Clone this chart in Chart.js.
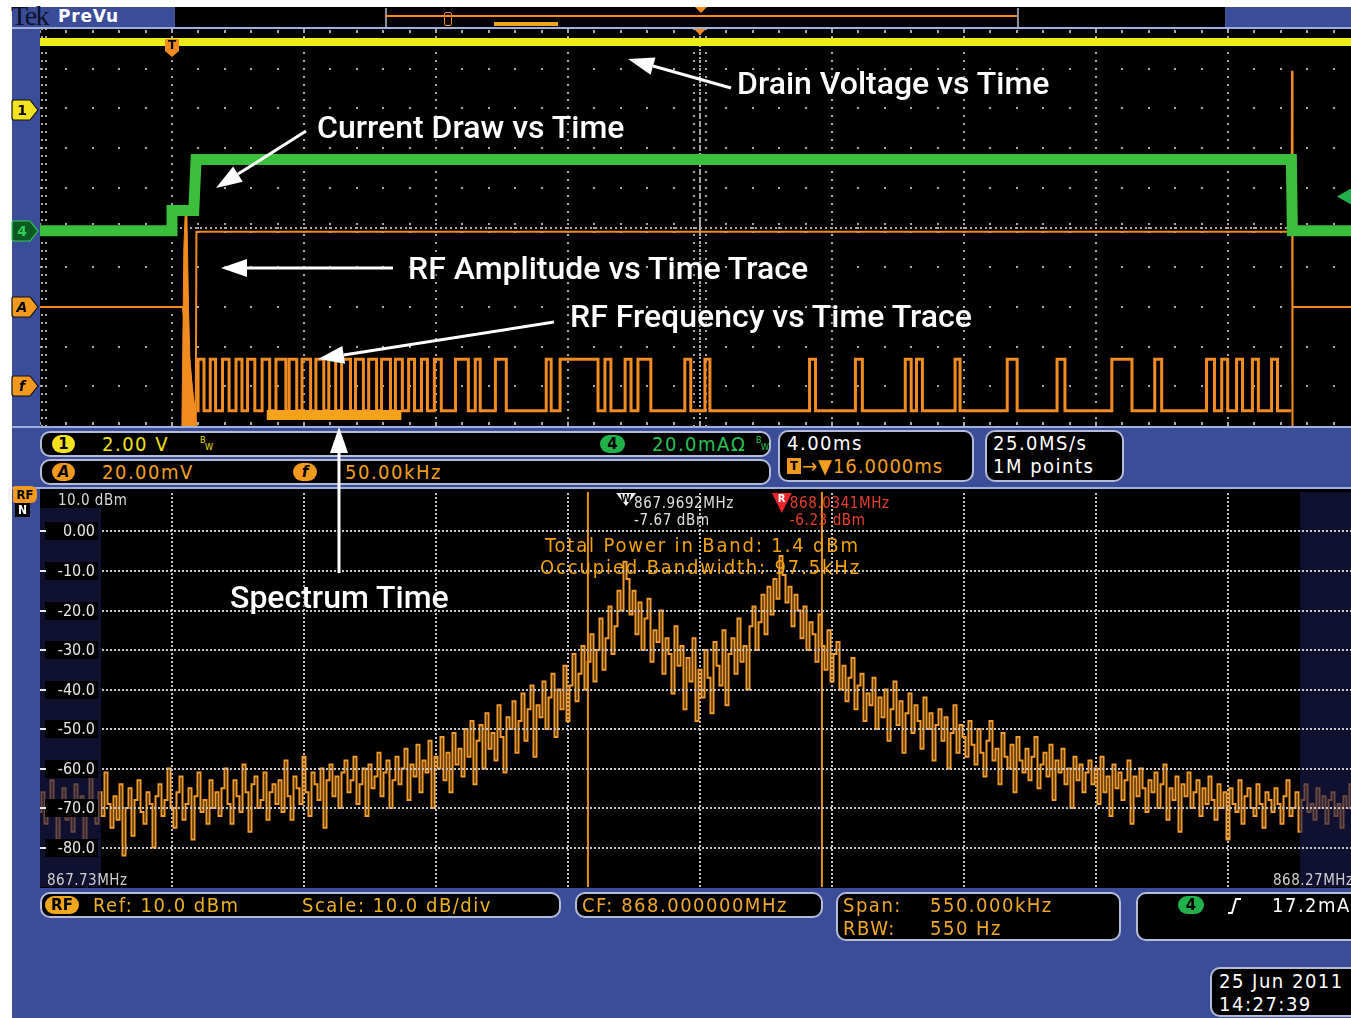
<!DOCTYPE html>
<html>
<head>
<meta charset="utf-8">
<title>RF burst capture</title>
<script src="https://cdn.jsdelivr.net/npm/chart.js@4.4.1/dist/chart.umd.min.js"></script>
<style>
  html, body { margin:0; padding:0; }
  body { width:1351px; height:1018px; overflow:hidden; background:#fff; position:relative;
         font-family:"DejaVu Sans Condensed","Liberation Sans Narrow","DejaVu Sans",sans-serif; }
  .abs { position:absolute; }
  .blk { position:absolute; background:#000; }
  .hl  { position:absolute; background:#9fb0dc; }
  .box { position:absolute; background:#000; border:2px solid #b4bcd8; border-radius:10px; box-sizing:border-box; }
  .rd  { position:absolute; font-size:20px; line-height:20px; letter-spacing:1.5px; white-space:nowrap; }
  .pill{ position:absolute; height:18px; border-radius:9px; color:#000; font-weight:bold; font-size:15px;
         line-height:18px; text-align:center; font-family:"DejaVu Sans","Liberation Sans",sans-serif; }
  .bw  { position:absolute; font-size:9px; line-height:9px; }
  .note{ position:absolute; color:#fff; font-family:Roboto,"Liberation Sans",sans-serif; font-weight:500;
         font-size:32px; line-height:32px; white-space:nowrap; text-shadow:0 0 2px #000, 1px 1px 2px #000; }
  .sp  { position:absolute; font-size:20px; line-height:20px; letter-spacing:1.85px; color:#f2a20a; white-space:nowrap; }
  svg  { position:absolute; left:0; top:0; overflow:visible; }
</style>
</head>
<body>
<!-- instrument bezel -->
<div class="abs" style="left:12px;top:7px;width:1339px;height:1011px;background:#3b4c98"></div>

<!-- title strip with record view -->
<div class="blk" style="left:175px;top:7px;width:1050px;height:20px"></div>
<div class="abs" style="left:11px;top:3px;font-family:'Liberation Serif',serif;font-size:28px;line-height:26px;color:#0c1226;letter-spacing:-1.5px">Tek</div>
<div class="abs" style="left:58px;top:6px;font-family:'DejaVu Sans',sans-serif;font-weight:bold;font-size:17px;line-height:20px;color:#fff;letter-spacing:0.8px">PreVu</div>
<div id="recview"></div>

<!-- time-domain graticule -->
<div class="hl" style="left:12px;top:27px;width:1339px;height:2px"></div>
<div class="blk" style="left:40px;top:29px;width:1320px;height:397px"></div>
<canvas id="scope" class="abs" style="left:40px;top:29px;width:1320px;height:397px" width="1320" height="397"></canvas>
<div id="chanMarks"></div>
<div class="hl" style="left:12px;top:426px;width:1339px;height:2px"></div>

<!-- channel readouts -->
<div class="box" style="left:40px;top:431px;width:731px;height:26px"></div>
<div class="pill" style="left:52px;top:435px;width:23px;background:#f2e21c">1</div>
<div class="rd" style="left:102px;top:434px;color:#f2e21c">2.00 V</div>
<div class="bw" style="left:200px;top:436px;color:#f2e21c">B</div><div class="bw" style="left:205px;top:443px;color:#f2e21c">W</div>
<div class="pill" style="left:600px;top:435px;width:25px;background:#22b04a">4</div>
<div class="rd" style="left:652px;top:434px;color:#25c455">20.0mAΩ</div>
<div class="bw" style="left:756px;top:436px;color:#25c455">B</div><div class="bw" style="left:761px;top:443px;color:#25c455">W</div>

<div class="box" style="left:40px;top:459px;width:731px;height:26px"></div>
<div class="pill" style="left:52px;top:463px;width:23px;background:#f29a1e;font-style:italic">A</div>
<div class="rd" style="left:102px;top:462px;color:#f2a01e">20.00mV</div>
<div class="pill" style="left:293px;top:463px;width:24px;background:#f29a1e;font-style:italic">f</div>
<div class="rd" style="left:345px;top:462px;color:#f2a01e">50.00kHz</div>

<div class="box" style="left:778px;top:430px;width:196px;height:52px"></div>
<div class="rd" style="left:787px;top:433px;color:#fff">4.00ms</div>
<div class="abs" style="left:787px;top:458px;width:14px;height:16px;background:#f29a1e;color:#000;font-weight:bold;font-size:13px;line-height:16px;text-align:center">T</div>
<div class="rd" style="left:802px;top:456px;color:#f2a01e;letter-spacing:1px">→▼16.0000ms</div>

<div class="box" style="left:985px;top:430px;width:139px;height:52px"></div>
<div class="rd" style="left:993px;top:433px;color:#fff">25.0MS/s</div>
<div class="rd" style="left:993px;top:456px;color:#fff">1M points</div>

<!-- spectrum graticule -->
<div class="hl" style="left:12px;top:487px;width:1339px;height:2px"></div>
<div class="blk" style="left:40px;top:489px;width:1320px;height:399px"></div>
<canvas id="spec" class="abs" style="left:40px;top:492px;width:1320px;height:395px" width="1320" height="395"></canvas>
<div class="abs" style="left:13px;top:486px;width:24px;height:17px;background:#f29a1e;color:#000;font-weight:bold;font-size:13px;line-height:17px;text-align:center;border-radius:2px 6px 6px 2px">RF</div>
<div class="abs" style="left:15px;top:503px;width:15px;height:14px;background:#000;color:#fff;font-weight:bold;font-size:12px;line-height:14px;text-align:center">N</div>
<div class="rd" style="left:58px;top:492px;color:#d8d8d8;font-size:15px;line-height:16px;letter-spacing:0.5px">10.0 dBm</div>
<div class="rd" style="left:47px;top:872px;color:#d0d0d0;font-size:15px;line-height:16px;letter-spacing:0.5px">867.73MHz</div>
<div class="rd" style="left:1273px;top:872px;color:#d0d0d0;font-size:15px;line-height:16px;letter-spacing:0.5px">868.27MHz</div>
<div class="sp" id="powerText" style="left:545px;top:535px"></div>
<div class="sp" id="obwText" style="left:540px;top:557px"></div>

<!-- spectrum readouts -->
<div class="box" style="left:40px;top:892px;width:521px;height:26px"></div>
<div class="pill" style="left:45px;top:896px;width:34px;background:#f2a61e">RF</div>
<div class="rd" style="left:93px;top:895px;color:#ecb222">Ref: 10.0 dBm</div>
<div class="rd" style="left:302px;top:895px;color:#ecb222">Scale: 10.0 dB/div</div>

<div class="box" style="left:575px;top:892px;width:248px;height:26px"></div>
<div class="rd" style="left:582px;top:895px;color:#f0a828">CF: 868.000000MHz</div>

<div class="box" style="left:836px;top:892px;width:285px;height:49px"></div>
<div class="rd" style="left:843px;top:895px;color:#f0a828">Span:</div>
<div class="rd" style="left:930px;top:895px;color:#f0a828">550.000kHz</div>
<div class="rd" style="left:843px;top:918px;color:#f0a828">RBW:</div>
<div class="rd" style="left:930px;top:918px;color:#f0a828">550 Hz</div>

<div class="box" style="left:1136px;top:892px;width:230px;height:49px"></div>
<div class="pill" style="left:1178px;top:896px;width:26px;background:#22b04a">4</div>
<svg width="20" height="20" style="left:1226px;top:896px"><path d="M2,17 H6 L10,3 H15" stroke="#fff" stroke-width="2" fill="none"/></svg>
<div class="rd" style="left:1272px;top:895px;color:#fff">17.2mA</div>

<div class="box" style="left:1210px;top:967px;width:160px;height:50px"></div>
<div class="rd" style="left:1219px;top:971px;color:#fff">25 Jun 2011</div>
<div class="rd" style="left:1219px;top:994px;color:#fff">14:27:39</div>

<!-- callouts -->
<svg id="arrows" width="1351" height="1018"></svg>
<div class="note" style="left:737px;top:67px">Drain Voltage vs Time</div>
<div class="note" style="left:317px;top:111px">Current Draw vs Time</div>
<div class="note" style="left:408px;top:252px">RF Amplitude vs Time Trace</div>
<div class="note" style="left:570px;top:300px">RF Frequency vs Time Trace</div>
<div class="note" style="left:230px;top:581px">Spectrum Time</div>

<script>
// ---------------- time domain (ms relative to trigger) ----------------
const timeWindow = [-4, 36];          // 4.00 ms/div over 10 divisions
const centerTime = 16;                // horizontal position 16.0000 ms
const specTime = [2.87, 6.95];        // window used for the spectrum

// channel 1: drain voltage (V)
const drainTime  = [-4, 36];
const drainVolts = [3.4, 3.4];

// channel 4: current draw (mA)
const currentTime = [-4, 0, 0, 0.66, 0.73, 33.92, 33.95, 36];
const currentMa   = [0, 0, 10.2, 10.2, 35.9, 35.9, 0, 0];
const trigLevelMa = 17.2;

// RF amplitude (mV)
const ampTime = [-4, 0.33, 0.72, 0.74, 33.93, 33.94, 33.95, 33.96, 36];
const ampMv   = [0, 0, -58, 37.8, 37.8, 119, -60, 0, 0];
// power-up burst at the start of the transmission (mV envelope)
const burstTime = [0.30, 0.36, 0.41, 0.45, 0.50, 0.54, 0.63, 0.76];
const burstMv   = [-60, 30, 51, 48, 0, -25, -45, -60];

// RF frequency (kHz from carrier): FSK mark intervals
const fskLowKhz = -30.8, fskHighKhz = 34.1;
const fskStart = 0.74, fskEnd = 33.92;
const fskRise = [0.79, 1.16, 1.53, 1.94, 2.29, 2.73, 3.15, 3.55, 3.94, 4.36, 4.75, 5.14, 5.56, 5.96, 6.35,
                 6.77, 7.17, 7.56, 7.95, 8.59, 9.19, 9.80, 11.34, 11.76, 13.12, 13.73, 14.12, 15.54, 16.15,
                 19.32, 20.71, 22.22, 22.56, 23.73, 25.31, 26.82, 28.48, 29.78, 31.35, 31.81, 32.26, 32.74, 33.32];
const fskFall = [0.97, 1.32, 1.73, 2.12, 2.51, 2.96, 3.45, 3.78, 4.20, 4.60, 4.96, 5.41, 5.80, 6.20, 6.62,
                 6.98, 7.35, 7.74, 8.16, 8.98, 9.34, 10.13, 11.49, 12.91, 13.30, 13.91, 14.51, 15.72, 16.30,
                 19.50, 20.92, 22.40, 22.74, 23.88, 25.61, 27.06, 29.09, 29.99, 31.59, 31.99, 32.44, 32.92, 33.50];

// vertical settings: units per division and marker offset in divisions
const chan = {
  ch1: { perDiv: 2,  offsetDiv: 2.97,  color: '#f2e21c', label: '1' },
  ch4: { perDiv: 20, offsetDiv: -0.08, color: '#22b04a', label: '4' },
  chA: { perDiv: 20, offsetDiv: -2.0,  color: '#f29a1e', label: 'A' },
  chF: { perDiv: 50, offsetDiv: -4.0,  color: '#f29a1e', label: 'f' }
};

// ---------------- spectrum (1.25 kHz bins from 867.725 MHz) ----------------
const specStartMHz = 867.725, specStepMHz = 0.00125;
const specDbm = [
  -71,-66,-74,-69,-63,-72,-78,-68,-65,-73,-70,-76,-64,-71,-67,-79,-70,-62,-68,-74,
  -66,-72,-61,-69,-75,-67,-73,-64,-82,-70,-65,-77,-68,-63,-71,-74,-66,-69,-80,-67,
  -64,-72,-68,-60,-70,-75,-66,-62,-73,-69,-65,-78,-67,-61,-71,-68,-74,-63,-70,-66,
  -72,-65,-60,-69,-74,-63,-67,-71,-59,-66,-76,-64,-62,-70,-68,-61,-73,-66,-64,-69,
  -63,-71,-58,-67,-73,-62,-65,-69,-57,-66,-72,-61,-64,-68,-60,-75,-63,-59,-67,-62,
  -70,-61,-58,-66,-63,-57,-69,-64,-60,-72,-59,-65,-62,-56,-67,-61,-58,-70,-63,-57,
  -64,-60,-55,-68,-59,-62,-54,-66,-58,-61,-53,-70,-57,-60,-52,-63,-56,-66,-51,-59,
  -55,-62,-50,-57,-48,-64,-53,-49,-60,-46,-55,-51,-58,-44,-52,-61,-47,-50,-43,-56,
  -48,-41,-53,-45,-39,-57,-44,-47,-38,-50,-42,-36,-52,-40,-45,-34,-48,-39,-31,-43,
  -36,-29,-40,-33,-26,-38,-30,-22,-35,-27,-19,-31,-24,-15,-20,-7.67,
  -12,-21,-15,-26,-18,-30,-22,-17,-33,-25,-28,-20,-36,-27,-31,-41,-24,-34,-29,-45,-32,-38,-27,-48,-35,
  -42,-30,-37,-46,-28,-34,-39,-25,-44,-31,-27,-36,-22,-33,-29,-40,-24,-19,-30,-23,-16,-26,-14,-21,-12,-17,
  -6.23,
  -11,-18,-14,-24,-16,-20,-27,-19,-30,-23,-26,-33,-21,-29,-35,-25,-38,-31,-28,-40,-34,-43,-37,
  -32,-45,-39,-36,-48,-41,-44,-37,-50,-42,-47,-40,-53,-45,-38,-49,-43,-56,-46,-41,
  -51,-44,-48,-55,-42,-50,-46,-58,-49,-45,-53,-47,-60,-51,-44,-56,-49,-52,-57,-48,
  -54,-59,-50,-56,-62,-53,-48,-58,-55,-64,-51,-57,-60,-54,-66,-52,-58,-61,-55,-63,
  -57,-52,-65,-59,-56,-62,-54,-68,-58,-61,-55,-64,-60,-70,-57,-63,-59,-66,-61,-58,
  -64,-60,-69,-57,-66,-62,-72,-59,-65,-61,-68,-63,-58,-74,-62,-67,-60,-65,-71,-63,
  -66,-61,-70,-64,-59,-73,-65,-68,-62,-76,-64,-67,-61,-70,-66,-63,-72,-65,-69,-62,
  -68,-73,-64,-70,-66,-78,-65,-69,-71,-63,-74,-67,-65,-70,-72,-64,-69,-75,-66,-68,
  -71,-65,-69,-74,-67,-63,-72,-70,-66,-76,-68,-64,-71,-69,-73,-65,-70,-67,-74,-68,
  -66,-72,-69,-75,-67,-70,-64,-73,-68,-71
];
const specSpan = [867.725, 868.275];
const refLevelDbm = 10, dbPerDiv = 10;
const dbTicks = [0, -10, -20, -30, -40, -50, -60, -70, -80];
const obwEdges = [867.9533, 868.0508];
const markerFreq = [867.9692, 868.0341];
const markerDbm  = [-7.67, -6.23];
const totalPowerDbm = 1.4;

// ---------------- helpers ----------------
const xy = (xs, ys) => xs.map((x, i) => ({ x, y: ys[i] }));
const chanScale = c => ({ type: 'linear', display: false,
  min: (-5 - c.offsetDiv) * c.perDiv, max: (5 - c.offsetDiv) * c.perDiv });

const fskPts = [{ x: fskStart, y: fskLowKhz }];
fskRise.forEach((a, i) => {
  const b = fskFall[i];
  fskPts.push({ x: a, y: fskLowKhz }, { x: a, y: fskHighKhz }, { x: b, y: fskHighKhz }, { x: b, y: fskLowKhz });
});
fskPts.push({ x: fskEnd, y: fskLowKhz });

const ORANGE = '#f28b20';

// graticule dots, centre ticks and edge ticks of the time display
const scopeGrid = {
  id: 'scopeGrid',
  beforeDatasetsDraw(chart) {
    const { ctx, chartArea: a } = chart;
    const dx = (a.right - a.left) / 10, dy = (a.bottom - a.top) / 10;
    ctx.save();
    ctx.fillStyle = '#a8a8a8';
    for (let k = 1; k < 10; k++) {
      const x = Math.round(a.left + k * dx);
      for (let m = 0; m <= 50; m++) ctx.fillRect(x - 1, Math.round(a.top + m * dy / 5) - 1, 2, 2);
    }
    for (let j = 1; j < 10; j++) {
      const y = Math.round(a.top + j * dy);
      for (let m = 0; m <= 50; m++) ctx.fillRect(Math.round(a.left + m * dx / 5) - 1, y - 1, 2, 2);
    }
    // centre cross
    const cx = Math.round(a.left + 5 * dx), cy = Math.round(a.top + 5 * dy);
    for (let y = a.top; y < a.bottom; y += 4) ctx.fillRect(cx - 1, y, 2, 2);
    for (let m = 0; m <= 50; m++) {
      const y = Math.round(a.top + m * dy / 5);
      ctx.fillRect(cx - 7, y - 1, 2, 2); ctx.fillRect(cx + 5, y - 1, 2, 2);
    }
    for (let x = a.left; x < a.right; x += 5) ctx.fillRect(x, cy - 1, 2, 2);
    for (let m = 0; m <= 50; m++) {
      const x = Math.round(a.left + m * dx / 5);
      ctx.fillRect(x - 1, cy - 5, 2, 2); ctx.fillRect(x - 1, cy + 3, 2, 2);
    }
    // frame ticks
    for (let m = 0; m <= 50; m++) {
      const y = Math.round(a.top + m * dy / 5);
      ctx.fillRect(a.left + 1, y - 1, 2, 2); ctx.fillRect(a.left + 5, y - 1, 2, 2);
    }
    for (let m = 0; m <= 50; m++) {
      const x = Math.round(a.left + m * dx / 5);
      ctx.fillRect(x - 1, a.top + 1, 2, 3); ctx.fillRect(x - 1, a.bottom - 4, 2, 3);
    }
    ctx.restore();
  },
  afterDatasetsDraw(chart) {
    const { ctx, chartArea: a, scales } = chart;
    ctx.save();
    // spectrum time window bar
    const x0 = scales.x.getPixelForValue(specTime[0]), x1 = scales.x.getPixelForValue(specTime[1]);
    ctx.fillStyle = '#f7a21b';
    ctx.fillRect(x0, a.bottom - 16, x1 - x0, 10);
    // trigger position marker
    const tx = scales.x.getPixelForValue(0);
    ctx.fillStyle = ORANGE;
    ctx.beginPath();
    ctx.moveTo(tx - 7, a.top + 10); ctx.lineTo(tx + 7, a.top + 10); ctx.lineTo(tx + 7, a.top + 22);
    ctx.lineTo(tx, a.top + 28); ctx.lineTo(tx - 7, a.top + 22); ctx.closePath(); ctx.fill();
    ctx.fillStyle = '#000';
    ctx.font = 'bold 12px "DejaVu Sans"'; ctx.textAlign = 'center'; ctx.textBaseline = 'middle';
    ctx.fillText('T', tx, a.top + 17);
    // expansion point marker
    const ex = scales.x.getPixelForValue(centerTime);
    ctx.fillStyle = ORANGE;
    ctx.beginPath(); ctx.moveTo(ex - 6, a.top); ctx.lineTo(ex + 6, a.top); ctx.lineTo(ex, a.top + 6); ctx.closePath(); ctx.fill();
    // trigger level marker on the right edge
    const ty = scales.ch4.getPixelForValue(trigLevelMa);
    ctx.fillStyle = '#22b04a';
    ctx.beginPath(); ctx.moveTo(1297, ty); ctx.lineTo(1311, ty - 8); ctx.lineTo(1311, ty + 8); ctx.closePath(); ctx.fill();
    ctx.restore();
  }
};

const scope = new Chart(document.getElementById('scope'), {
  type: 'line',
  data: { datasets: [
    { data: xy(drainTime, drainVolts), yAxisID: 'ch1', borderColor: '#ecec1c', borderWidth: 8, order: 1 },
    { data: xy(currentTime, currentMa), yAxisID: 'ch4', borderColor: '#3cbf3c', borderWidth: 11, order: 2 },
    { data: xy(burstTime, burstMv), yAxisID: 'chA', borderColor: ORANGE, backgroundColor: ORANGE, borderWidth: 1, fill: 'start', order: 3 },
    { data: xy(ampTime, ampMv), yAxisID: 'chA', borderColor: ORANGE, borderWidth: 2, order: 4 },
    { data: fskPts, yAxisID: 'chF', borderColor: ORANGE, borderWidth: 3, order: 5 }
  ]},
  options: {
    responsive: false, animation: false, devicePixelRatio: 1, events: [],
    layout: { padding: 0 },
    elements: { point: { radius: 0 }, line: { tension: 0, borderCapStyle: 'butt' } },
    plugins: { legend: { display: false }, tooltip: { enabled: false } },
    scales: {
      x: { type: 'linear', display: false, min: timeWindow[0], max: timeWindow[1] },
      ch1: chanScale(chan.ch1), ch4: chanScale(chan.ch4), chA: chanScale(chan.chA), chF: chanScale(chan.chF)
    }
  },
  plugins: [scopeGrid]
});

// channel markers on the left bezel
(function () {
  const holder = document.getElementById('chanMarks');
  Object.keys(chan).forEach(k => {
    const c = chan[k];
    const y = 29 + scope.scales[k].getPixelForValue(0);
    const dark = k === 'ch4';
    holder.insertAdjacentHTML('beforeend',
      `<svg width="28" height="22" style="left:11px;top:${Math.round(y - 11)}px">
        <path d="M3,1 H19 L27,11 L19,21 H3 Q1,21 1,19 V3 Q1,1 3,1 Z" fill="${dark ? '#0c5a22' : c.color}" stroke="${dark ? '#2fcf55' : '#111'}" stroke-width="1.2"/>
        <text x="11" y="16" text-anchor="middle" font-family="DejaVu Sans" font-weight="bold" font-size="14" ${k === 'chA' || k === 'chF' ? 'font-style="italic"' : ''} fill="${dark ? '#2fcf55' : '#000'}">${c.label}</text>
      </svg>`);
  });
})();

// record view in the title strip
(function () {
  const L = 385, R = 1017, span = timeWindow[1] - timeWindow[0];
  const rx = t => L + (t - timeWindow[0]) / span * (R - L);
  const h = document.getElementById('recview');
  h.insertAdjacentHTML('beforeend',
    `<div class="abs" style="left:${L}px;top:8px;width:2px;height:19px;background:#8a8f9c"></div>
     <div class="abs" style="left:${R}px;top:8px;width:2px;height:19px;background:#8a8f9c"></div>
     <div class="abs" style="left:${L}px;top:15px;width:${R - L}px;height:2px;background:${ORANGE}"></div>
     <div class="abs" style="left:${rx(0) - 4}px;top:12px;width:6px;height:12px;border:1.5px solid ${ORANGE};border-radius:2px"></div>
     <div class="abs" style="left:${rx(specTime[0])}px;top:22px;width:${rx(specTime[1]) - rx(specTime[0])}px;height:4px;background:#f7a21b"></div>
     <svg width="14" height="8" style="left:${rx(centerTime) - 7}px;top:7px"><path d="M1,0 H13 L7,6 Z" fill="${ORANGE}"/></svg>`);
})();

// ---------------- spectrum display ----------------
const specFreq = specDbm.map((_, i) => +(specStartMHz + i * specStepMHz).toFixed(5));
const yMin = refLevelDbm - 10 * dbPerDiv;

const specGrid = {
  id: 'specGrid',
  beforeDatasetsDraw(chart) {
    const { ctx, chartArea: a } = chart;
    const dx = (a.right - a.left) / 10;
    ctx.save();
    ctx.strokeStyle = '#c0c0c0'; ctx.lineWidth = 2; ctx.setLineDash([2, 2]);
    for (let k = 1; k < 10; k++) {
      const x = Math.round(a.left + k * dx);
      ctx.beginPath(); ctx.moveTo(x, a.top - 3); ctx.lineTo(x, a.bottom + 1); ctx.stroke();
    }
    ctx.restore();
  },
  afterDatasetsDraw(chart) {
    const { ctx, chartArea: a, scales } = chart;
    const ys = scales.y, xs = scales.x;
    ctx.save();
    // dimmed edge bands
    ctx.fillStyle = 'rgba(26,26,78,0.62)';
    ctx.fillRect(a.left, a.top + 16, 61, a.bottom - a.top - 16);
    ctx.fillRect(a.left + 1260, a.top, 60, a.bottom - a.top);
    // horizontal graticule
    ctx.strokeStyle = '#c8c8c8'; ctx.lineWidth = 2; ctx.setLineDash([2, 2]);
    dbTicks.forEach(v => {
      const y = Math.round(ys.getPixelForValue(v));
      ctx.beginPath(); ctx.moveTo(a.left + 62, y); ctx.lineTo(a.right, y); ctx.stroke();
    });
    ctx.setLineDash([]);
    // level labels
    ctx.font = '16px "DejaVu Sans Condensed","DejaVu Sans"';
    ctx.textAlign = 'right'; ctx.textBaseline = 'middle';
    dbTicks.forEach(v => {
      const y = Math.round(ys.getPixelForValue(v));
      ctx.fillStyle = '#000'; ctx.fillRect(a.left + 5, y - 9, 53, 18);
      ctx.fillStyle = '#e8e8e8'; ctx.fillRect(a.left, y - 1, 6, 2);
      ctx.fillText(v === 0 ? '0.00' : v.toFixed(1), a.left + 55, y + 1);
    });
    // frequency markers
    ctx.letterSpacing = '0.6px';
    markerFreq.forEach((f, i) => {
      const x = xs.getPixelForValue(f);
      const isRef = i === 1;
      ctx.fillStyle = isRef ? '#e8262a' : '#f2f2f2';
      ctx.beginPath();
      ctx.moveTo(x - 10, a.top + 1); ctx.lineTo(x + 10, a.top + 1); ctx.lineTo(x, a.top + (isRef ? 21 : 14)); ctx.closePath(); ctx.fill();
      ctx.fillStyle = isRef ? '#fff' : '#000';
      ctx.font = 'bold 10px "DejaVu Sans"'; ctx.textAlign = 'center';
      ctx.fillText(isRef ? 'R' : 'W', x, a.top + 7);
      ctx.font = '15px "DejaVu Sans Condensed","DejaVu Sans"'; ctx.textAlign = 'left';
      ctx.fillStyle = isRef ? '#e8402c' : '#e0e0e0';
      ctx.fillText(f.toFixed(4) + 'MHz', x + 8, a.top + 12);
      ctx.fillText(markerDbm[i].toFixed(2) + ' dBm', x + 8, a.top + 29);
    });
    ctx.restore();
  }
};

const spec = new Chart(document.getElementById('spec'), {
  type: 'line',
  data: { datasets: [
    { data: xy(specFreq, specDbm), borderColor: '#f39a2c', borderWidth: 2, stepped: 'middle', order: 3 },
    { data: [{ x: obwEdges[0], y: refLevelDbm }, { x: obwEdges[0], y: yMin }], borderColor: '#e8921a', borderWidth: 2, order: 1 },
    { data: [{ x: obwEdges[1], y: refLevelDbm }, { x: obwEdges[1], y: yMin }], borderColor: '#e8921a', borderWidth: 2, order: 2 }
  ]},
  options: {
    responsive: false, animation: false, devicePixelRatio: 1, events: [],
    layout: { padding: 0 },
    elements: { point: { radius: 0 }, line: { tension: 0 } },
    plugins: { legend: { display: false }, tooltip: { enabled: false } },
    scales: {
      x: { type: 'linear', display: false, min: specSpan[0], max: specSpan[1] },
      y: { type: 'linear', display: false, min: yMin, max: refLevelDbm }
    }
  },
  plugins: [specGrid]
});

document.getElementById('powerText').textContent = 'Total Power in Band: ' + totalPowerDbm.toFixed(1) + ' dBm';
document.getElementById('obwText').textContent = 'Occupied Bandwidth: ' + ((obwEdges[1] - obwEdges[0]) * 1000).toFixed(1) + 'kHz';

// callout arrows
(function () {
  const svg = document.getElementById('arrows');
  const arrows = [[731, 88, 628, 59], [306, 131, 216, 188], [393, 268, 221, 268], [554, 322, 318, 359], [339, 573, 339, 427]];
  let out = '';
  arrows.forEach(([x1, y1, x2, y2]) => {
    const ang = Math.atan2(y2 - y1, x2 - x1), L = 26, W = 9;
    const bx = x2 - L * Math.cos(ang), by = y2 - L * Math.sin(ang);
    const px = W * Math.sin(ang), py = W * Math.cos(ang);
    out += `<line x1="${x1}" y1="${y1}" x2="${bx}" y2="${by}" stroke="#fff" stroke-width="3"/>` +
           `<polygon points="${x2},${y2} ${bx + px},${by - py} ${bx - px},${by + py}" fill="#fff"/>`;
  });
  svg.innerHTML = out;
})();
</script>
</body>
</html>
